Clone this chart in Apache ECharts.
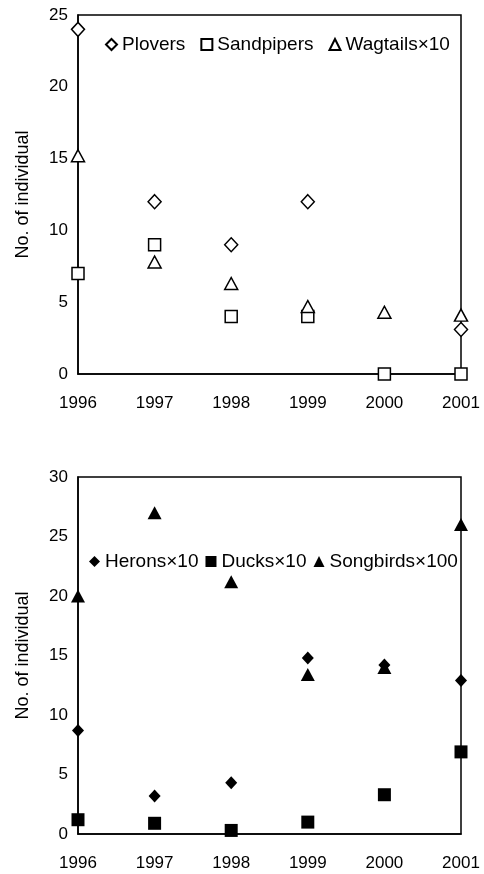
<!DOCTYPE html>
<html>
<head>
<meta charset="utf-8">
<script src="https://cdn.jsdelivr.net/npm/echarts@6/dist/echarts.min.js"></script>
<style>
html,body{margin:0;padding:0;background:#fff;}
#chart{width:484px;height:874px;}
</style>
</head>
<body>
<div id="chart"></div>
<script>
const years = ['1996','1997','1998','1999','2000','2001'];
const plovers = [24, 12, 9, 12, null, 3.1];
const sandpipers = [7, 9, 4, 4, 0, 0];
const wagtails10 = [15.2, 7.8, 6.3, 4.7, 4.3, 4.1];
const herons10 = [8.7, 3.2, 4.3, 14.8, 14.2, 12.9];
const ducks10 = [1.2, 0.9, 0.3, 1.0, 3.3, 6.9];
const songbirds100 = [20.0, 27.0, 21.2, 13.4, 14.0, 26.0];
const topTicks = {min: 0, max: 25, interval: 5};
const bottomTicks = {min: 0, max: 30, interval: 5};
const yTitle = 'No. of individual';

const FONT = '"Liberation Sans", Arial, sans-serif';
const chart = echarts.init(document.getElementById('chart'), null, {renderer: 'canvas'});

function xAxis(gi) {
  return {
    type: 'category', gridIndex: gi, data: years, boundaryGap: false,
    axisLine: {lineStyle: {color: '#000', width: 1.5}},
    axisTick: {show: false},
    axisLabel: {color: '#000', fontFamily: FONT, fontSize: 17, margin: 21},
    splitLine: {show: false}
  };
}
function yAxis(gi, t) {
  return {
    type: 'value', gridIndex: gi, min: t.min, max: t.max, interval: t.interval,
    name: yTitle, nameLocation: 'middle', nameGap: 46,
    nameTextStyle: {color: '#000', fontFamily: FONT, fontSize: 18},
    axisLine: {show: true, lineStyle: {color: '#000', width: 1.5}},
    axisTick: {show: false},
    axisLabel: {color: '#000', fontFamily: FONT, fontSize: 17, margin: 10},
    splitLine: {show: false}
  };
}
const hollow = {color: '#fff', borderColor: '#000', borderWidth: 1.5, opacity: 1};
const filled = {color: '#000', borderColor: '#000', borderWidth: 0, opacity: 1};

chart.setOption({
  animation: false,
  backgroundColor: '#fff',
  grid: [
    {left: 78, top: 15, width: 383, height: 359, show: true, borderColor: '#000', borderWidth: 1.5, backgroundColor: 'transparent'},
    {left: 78, top: 477, width: 383, height: 357, show: true, borderColor: '#000', borderWidth: 1.5, backgroundColor: 'transparent'}
  ],
  xAxis: [xAxis(0), xAxis(1)],
  yAxis: [yAxis(0, topTicks), yAxis(1, bottomTicks)],
  legend: [
    {
      data: ['Plovers', 'Sandpipers', 'Wagtails×10'],
      left: 100, top: 30, itemWidth: 11, itemHeight: 11, itemGap: 15,
      textStyle: {color: '#000', fontFamily: FONT, fontSize: 19}
    },
    {
      data: ['Herons×10', 'Ducks×10', 'Songbirds×100'],
      left: 84, top: 547, itemWidth: 11, itemHeight: 11, itemGap: 7,
      textStyle: {color: '#000', fontFamily: FONT, fontSize: 19}
    }
  ],
  series: [
    {name: 'Plovers', type: 'scatter', xAxisIndex: 0, yAxisIndex: 0, data: plovers, symbol: 'diamond', symbolSize: [13, 14], itemStyle: hollow, clip: false},
    {name: 'Sandpipers', type: 'scatter', xAxisIndex: 0, yAxisIndex: 0, data: sandpipers, symbol: 'rect', symbolSize: 12, itemStyle: hollow, clip: false},
    {name: 'Wagtails×10', type: 'scatter', xAxisIndex: 0, yAxisIndex: 0, data: wagtails10, symbol: 'triangle', symbolSize: [13, 12], itemStyle: hollow, clip: false},
    {name: 'Herons×10', type: 'scatter', xAxisIndex: 1, yAxisIndex: 1, data: herons10, symbol: 'diamond', symbolSize: [12, 13], itemStyle: filled, clip: false},
    {name: 'Ducks×10', type: 'scatter', xAxisIndex: 1, yAxisIndex: 1, data: ducks10, symbol: 'rect', symbolSize: 13, itemStyle: filled, clip: false},
    {name: 'Songbirds×100', type: 'scatter', xAxisIndex: 1, yAxisIndex: 1, data: songbirds100, symbol: 'triangle', symbolSize: [14, 13], itemStyle: filled, clip: false}
  ]
});
</script>
</body>
</html>
